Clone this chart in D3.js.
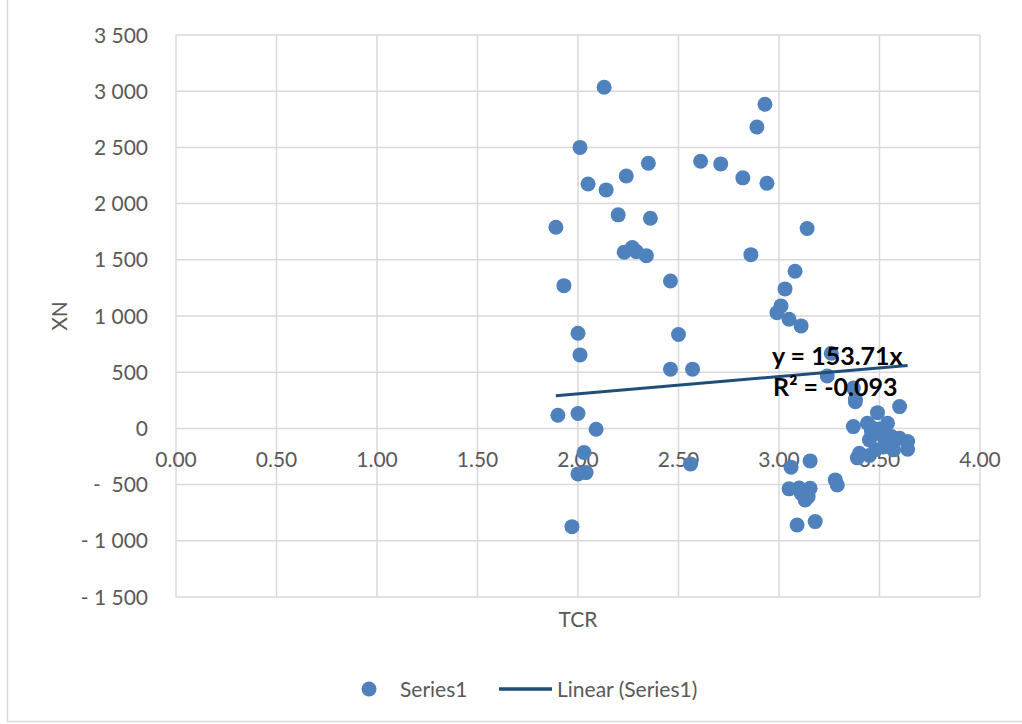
<!DOCTYPE html>
<html>
<head>
<meta charset="utf-8">
<script src="https://cdn.jsdelivr.net/npm/d3@7"></script>
<style>
  body { margin: 0; background: #fff; }
  text { font-family: Lato, "Open Sans", sans-serif; fill: #595959; white-space: pre; }
</style>
</head>
<body>
<svg id="chart" width="1022" height="724"></svg>
<script>
// TCR vs XN scatter with linear trend (zero intercept)

var tcr = [
	1.89, 1.93, 1.90, 2.01, 2.13, 2.05, 2.14, 2.24, 2.35, 2.20,
	2.36, 2.23, 2.27, 2.29, 2.34, 2.46, 2.00, 2.01, 2.50, 2.46,
	2.57, 2.00, 2.09, 2.03, 2.00, 2.04, 2.56, 1.97, 2.61, 2.71,
	2.82, 2.94, 2.93, 2.89, 3.14, 2.86, 3.08, 3.03, 3.01, 2.99,
	3.05, 3.11, 3.26, 3.24, 3.37, 3.38, 3.38, 3.60, 3.49, 3.37,
	3.44, 3.46, 3.54, 3.46, 3.51, 3.56, 3.60, 3.64, 3.64, 3.40,
	3.52, 3.57, 3.45, 3.50, 3.39, 3.45, 3.53, 3.48,
	3.155, 3.06, 3.28, 3.29, 3.05, 3.11, 3.155, 3.13, 3.145, 3.10,
	3.09, 3.18
];
var xn = [
	1790, 1270, 117, 2500, 3035, 2175, 2122, 2246, 2359, 1900,
	1870, 1568, 1610, 1573, 1537, 1312, 847, 654, 835, 527,
	527, 132, -7, -215, -405, -393, -316, -874, 2377, 2353,
	2229, 2181, 2884, 2682, 1778, 1546, 1398, 1241, 1090, 1030,
	971, 912, 669, 467, 360, 262, 238, 194, 140, 16,
	46, 10, 46, -28, -58, -73, -88, -117, -185, -221,
	-165, -191, -102, -5, -262, -240, -120, -190,
	-289, -345, -458, -503, -538, -577, -532, -636, -607, -530,
	-859, -829
];
var slope = 153.71;
var rSquared = '-0.093';
var xTicks = [0, 0.5, 1, 1.5, 2, 2.5, 3, 3.5, 4];
var yTicks = [3500, 3000, 2500, 2000, 1500, 1000, 500, 0, -500, -1000, -1500];

var data = tcr.map(function(d, i) { return {x: d, y: xn[i]}; });

var svg = d3.select('#chart'),
	margin = {top: 35, right: 42, bottom: 127, left: 176},
	width = 1022 - margin.left - margin.right,
	height = 724 - margin.top - margin.bottom,
	dotColor = '#4f81bd',
	lineColor = '#1f4e79',
	gridColor = '#d9d9d9';

// chart frame
svg.append('rect')
	.attr('x', 7.5).attr('y', -2)
	.attr('width', 1040).attr('height', 723.5)
	.attr('fill', 'none').attr('stroke', gridColor).attr('stroke-width', 1.5);

var x = d3.scaleLinear().domain([0, 4]).range([0, width]);
var y = d3.scaleLinear().domain([-1500, 3500]).range([height, 0]);

var g = svg.append('g')
	.attr('transform', 'translate(' + margin.left + ',' + margin.top + ')');

// gridlines
g.append('g').selectAll('line')
	.data(yTicks).enter().append('line')
	.attr('x1', 0).attr('x2', width)
	.attr('y1', function(d) { return y(d); })
	.attr('y2', function(d) { return y(d); })
	.attr('stroke', gridColor).attr('stroke-width', 1.5);

g.append('g').selectAll('line')
	.data(xTicks).enter().append('line')
	.attr('x1', function(d) { return x(d); })
	.attr('x2', function(d) { return x(d); })
	.attr('y1', 0).attr('y2', height)
	.attr('stroke', gridColor).attr('stroke-width', 1.5);

// y tick labels, excel style "- 1 000"
function fmtY(v) {
	var s = d3.format(',')(Math.abs(v)).replace(/,/g, ' ');
	if (v < 0) return (Math.abs(v) < 1000 ? '-  ' : '- ') + s;
	return s;
}

g.append('g').selectAll('text')
	.data(yTicks).enter().append('text')
	.attr('x', -28)
	.attr('y', function(d) { return y(d); })
	.attr('dy', '0.36em')
	.attr('text-anchor', 'end')
	.style('font-size', '21px')
	.text(fmtY);

// x tick labels sit just under the zero line
g.append('g').selectAll('text')
	.data(xTicks).enter().append('text')
	.attr('x', function(d) { return x(d); })
	.attr('y', y(0) + 39)
	.attr('text-anchor', 'middle')
	.style('font-size', '21px')
	.text(d3.format('.2f'));

// axis titles
g.append('text')
	.attr('x', width / 2).attr('y', height + 30)
	.attr('text-anchor', 'middle')
	.style('font-size', '21px')
	.text('TCR');

g.append('text')
	.attr('transform', 'translate(' + (67 - margin.left) + ',' + (height / 2) + ') rotate(-90)')
	.attr('text-anchor', 'middle')
	.style('font-size', '21px')
	.text('XN');

// points
g.append('g').selectAll('circle')
	.data(data).enter().append('circle')
	.attr('cx', function(d) { return x(d.x); })
	.attr('cy', function(d) { return y(d.y); })
	.attr('r', 7.5)
	.attr('fill', dotColor);

// trendline over data range
var ext = d3.extent(tcr);
g.append('line')
	.attr('x1', x(ext[0])).attr('y1', y(slope * ext[0]))
	.attr('x2', x(ext[1])).attr('y2', y(slope * ext[1]))
	.attr('stroke', lineColor).attr('stroke-width', 3);

// equation label
var eq = g.append('text')
	.attr('text-anchor', 'middle')
	.style('font-size', '25px')
	.style('font-weight', 'bold')
	.style('fill', '#000');
eq.append('tspan').attr('x', x(3.29)).attr('y', 365 - margin.top).text('y = ' + slope + 'x');
eq.append('tspan').attr('x', x(3.28)).attr('y', 396 - margin.top).text('R² = ' + rSquared);

// legend
var legend = svg.append('g').attr('transform', 'translate(0,689)');
legend.append('circle').attr('cx', 369).attr('cy', 0).attr('r', 7.5).attr('fill', dotColor);
legend.append('text').attr('x', 400).attr('y', 8).style('font-size', '21px').text('Series1');
legend.append('line')
	.attr('x1', 499).attr('x2', 552).attr('y1', 0).attr('y2', 0)
	.attr('stroke', lineColor).attr('stroke-width', 3.5);
legend.append('text').attr('x', 557).attr('y', 8).style('font-size', '21px').text('Linear (Series1)');
</script>
</body>
</html>
